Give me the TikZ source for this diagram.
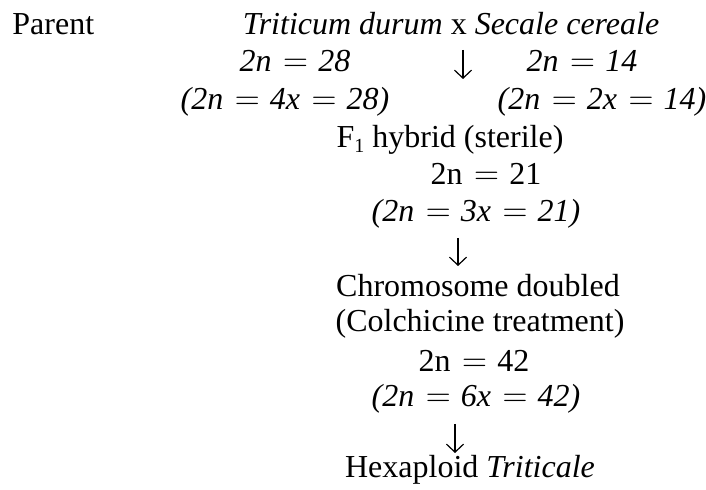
\documentclass[tikz,border=0pt]{standalone}
\usepackage{fontspec}
\setmainfont{Liberation Serif}
\usetikzlibrary{arrows.meta}
\newcommand{\eqsp}{\hspace{0.36em}$=$\hspace{0.32em}}
\newcommand{\subone}{\raisebox{-0.3ex}{\fontsize{10pt}{10pt}\selectfont 1}}

\begin{document}
\begin{tikzpicture}[x=0.5pt, y=-0.5pt,
  every node/.style={inner sep=0pt, anchor=base,
    font=\fontsize{16pt}{19pt}\selectfont},
  downarrow/.style={line width=0.6pt,
    -{Straight Barb[length=4pt, width=8.5pt, line width=0.6pt]}}]
  \useasboundingbox (0,0) rectangle (706,490);
  % parents
  \node[anchor=base west] (parent) at (12,35) {Parent};
  \node (cross) at (451,35) {\textit{Triticum durum} x \textit{Secale cereale}};
  \node (durumchr) at (295,72) {\textit{2n\eqsp 28}};
  \node (secalechr) at (582,72) {\textit{2n\eqsp 14}};
  \node (durumploidy) at (285,110) {\textit{(2n\eqsp 4x\eqsp 28)}};
  \node (secaleploidy) at (602,110) {\textit{(2n\eqsp 2x\eqsp 14)}};
  % F1
  \node (hybrid) at (450,148) {F\subone\ hybrid (sterile)};
  \node (hybridchr) at (486,185) {2n\eqsp 21};
  \node (hybridploidy) at (476,222) {\textit{(2n\eqsp 3x\eqsp 21)}};
  % doubling
  \node (doubled) at (478,297) {Chromosome doubled};
  \node (colchicine) at (480,332) {(Colchicine treatment)};
  \node (hexchr) at (474,372) {2n\eqsp 42};
  \node (hexploidy) at (476,407) {\textit{(2n\eqsp 6x\eqsp 42)}};
  \node (triticale) at (470,478) {Hexaploid \textit{Triticale}};
  % arrows
  \coordinate (crosstop) at (463,50);
  \coordinate (crossbot) at (463,79);
  \coordinate (hybridtop) at (458,238);
  \coordinate (hybridbot) at (458,266);
  \coordinate (hextop) at (455,424);
  \coordinate (hexbot) at (455,453);
  \draw[downarrow] (crosstop) -- (crossbot);
  \draw[downarrow] (hybridtop) -- (hybridbot);
  \draw[downarrow] (hextop) -- (hexbot);
\end{tikzpicture}
\end{document}
